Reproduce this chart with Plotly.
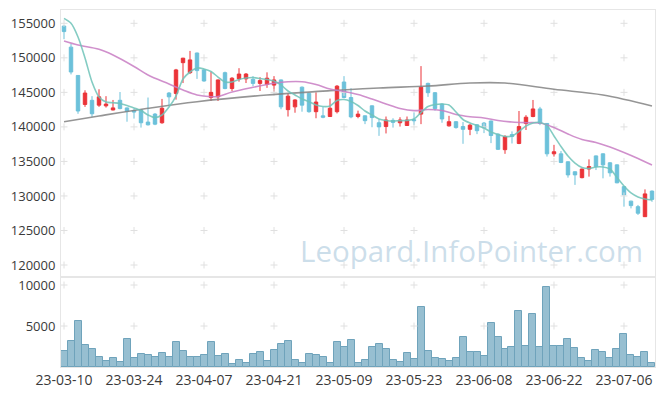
import pandas as pd
import plotly.graph_objects as go

# ---- categories: trading days (KRX) ----
holidays = ["2023-05-01", "2023-05-05", "2023-05-29", "2023-06-06"]
days = [d for d in pd.bdate_range("2023-03-10", "2023-07-12") if d.strftime("%Y-%m-%d") not in holidays]
dates = [d.strftime("%Y-%m-%d") for d in days]
tick_idx = list(range(0, 85, 10))
tick_dates = [dates[i] for i in tick_idx]
tick_labels = [days[i].strftime("%y-%m-%d") for i in tick_idx]

# ---- OHLC ----
opens = [154600, 151550, 147450, 143250, 143850, 143150, 143050, 142450, 143850, 142750,
         142350, 142450, 140700, 141850, 140600, 144900, 144850, 149300, 147850, 150700,
         148250, 144250, 144350, 147850, 145550, 146950, 146950, 146900, 146300, 146150,
         146050, 146800, 142500, 142900, 145750, 144850, 142200, 141600, 141500, 142200,
         146500, 144250, 141500, 141600, 143050, 140600, 140050, 140950, 140600, 140200,
         141050, 141850, 146300, 144950, 143300, 140150, 140750, 140050, 139650, 140300,
         140550, 140850, 138950, 136700, 138900, 137600, 140500, 141500, 142600, 140500,
         136100, 136100, 134950, 133500, 132650, 133900, 135800, 136100, 134800, 134500,
         131350, 129250, 128450, 127000, 130700]
highs = [154700, 152000, 147500, 145300, 144450, 145450, 144450, 143900, 145050, 142800,
         142650, 142500, 144250, 142000, 144050, 145050, 148400, 150000, 151000, 150750,
         148350, 148000, 146850, 148000, 147200, 148500, 147800, 147350, 147200, 147900,
         147350, 146850, 144850, 144000, 145850, 144900, 145000, 142900, 144100, 146050,
         147350, 145600, 142350, 141650, 143100, 141100, 141500, 141250, 141400, 141500,
         142100, 148800, 146400, 145050, 143400, 141600, 140850, 140700, 140450, 140400,
         140700, 140900, 139050, 138800, 139350, 142300, 141700, 143900, 142900, 140550,
         137400, 136500, 135000, 133550, 133950, 135300, 135850, 136150, 134900, 134550,
         131400, 129300, 128700, 130950, 130800]
lows = [152700, 147600, 141900, 142900, 141450, 142900, 142800, 142400, 142550, 140750,
        141200, 139900, 140200, 140250, 140450, 143150, 143950, 146350, 147650, 146950,
        146550, 143750, 143750, 145450, 145200, 146550, 146350, 145900, 145200, 145650,
        145100, 142550, 141500, 142050, 142200, 142050, 141250, 141250, 141450, 141950,
        144150, 141250, 141250, 140400, 139950, 138700, 139050, 139900, 140050, 140150,
        140250, 140400, 144350, 142350, 140600, 140050, 139750, 137550, 138800, 138950,
        139100, 137650, 136650, 136100, 137600, 137500, 139550, 141400, 140250, 135700,
        135700, 134750, 132650, 131600, 132550, 132800, 133750, 132550, 132800, 131850,
        128450, 128200, 127250, 126950, 129150]
closes = [153800, 147950, 142300, 144900, 141900, 144350, 143300, 142750, 142650, 142250,
          142150, 140600, 140300, 140400, 142700, 144350, 148250, 149950, 149700, 148150,
          146650, 145000, 146800, 145550, 147050, 147650, 147650, 146300, 146700, 147050,
          146800, 142900, 144450, 143900, 143150, 142200, 143600, 141400, 142700, 145900,
          144250, 141450, 141850, 140900, 141350, 140000, 141000, 140650, 141000, 141000,
          140900, 145750, 144950, 142650, 141150, 140750, 139900, 139650, 140250, 139450,
          139850, 138750, 136750, 138600, 138600, 140050, 141400, 142600, 140500, 136100,
          136400, 134850, 133050, 133050, 133900, 134250, 134250, 134500, 133350, 131900,
          130150, 128600, 127500, 130300, 129500]

# ---- volume ----
volumes = [1980, 3180, 5580, 2660, 2180, 1220, 780, 1100, 660, 3380,
           1100, 1580, 1500, 1220, 1700, 1220, 3020, 1980, 1220, 1220,
           1500, 3020, 1380, 1580, 380, 900, 500, 1580, 1820, 780,
           2060, 2780, 3180, 900, 500, 1580, 1460, 1220, 500, 3020,
           2420, 3260, 500, 900, 2420, 2780, 2180, 900, 660, 1700,
           980, 7380, 1980, 1100, 980, 780, 1100, 3620, 1820, 1820,
           1380, 5420, 3620, 2180, 2420, 6780, 2540, 6500, 2420, 9780,
           2540, 2540, 3380, 2300, 1100, 780, 2060, 1820, 1100, 2180,
           3980, 1460, 1220, 1820, 500]

# ---- moving averages ----
ma_short = [155720, 155000, 153020, 149980, 146500, 144330, 143600, 143500, 143390, 143100,
            142740, 142370, 141720, 141360, 141720, 142880, 144470, 146940, 147950, 148530,
            148380, 148020, 147220, 146500, 146500, 146860, 147080, 147150, 147010, 146860,
            146650, 146070, 145200, 144620, 144040, 143650, 143170, 142950, 143030, 143820,
            143970, 143680, 143100, 142300, 141720, 141140, 140930, 140850, 140900, 140930,
            141140, 142080, 142950, 143240, 143320, 143170, 142160, 141070, 140560, 140200,
            139840, 139260, 138900, 138610, 138680, 139330, 140130, 140560, 140640, 140200,
            138680, 137160, 135790, 134770, 134120, 133980, 134190, 134190, 133900, 132670,
            131440, 130430, 129850, 129560, 129410]
ma_mid_idx = [0, 2, 5, 7, 10, 12, 15, 17, 19, 21, 22, 24, 27, 30, 32, 34, 36, 38, 40, 42,
              44, 46, 48, 50, 52, 54, 56, 58, 60, 62, 64, 66, 68, 70, 72, 74, 76, 78, 80, 82, 84]
ma_mid = [152440, 151860, 151240, 150410, 148750, 147510, 146210, 145340, 144620, 144370,
          144400, 145050, 145730, 146310, 146540, 146540, 146140, 145490, 145130, 144690,
          144040, 143320, 142660, 142350, 142520, 142370, 141800, 141480, 141290, 140930,
          140710, 140610, 140560, 139910, 138970, 138180, 137740, 137090, 136290, 135420, 134480]
ma_long_idx = [0, 5, 12, 19, 29, 38, 45, 52, 58, 63, 70, 77, 84]
ma_long = [140750, 141580, 142690, 143650, 144620, 145240, 145630, 145920, 146350, 146350,
           145440, 144620, 143030]

price_ticks = [120000, 125000, 130000, 135000, 140000, 145000, 150000, 155000]
volume_ticks = [5000, 10000]

RED = "#eb3338"
BLUE = "#6cc1da"
FRAME = "#e6e6e6"
FONT = dict(family="Open Sans, DejaVu Sans, sans-serif", size=13, color="#3a3a3a")
XFONT = dict(family="Open Sans, DejaVu Sans, sans-serif", size=14, color="#3a3a3a")

fig = go.Figure()

# grid "+" marks at tick intersections
gx, gy = [], []
for d in tick_dates:
    for p in price_ticks:
        gx.append(d)
        gy.append(p)
fig.add_trace(go.Scatter(x=gx, y=gy, mode="markers", xaxis="x", yaxis="y",
                         marker=dict(symbol="cross-thin", size=5, line=dict(color="#e0e0e0", width=1)),
                         hoverinfo="skip", showlegend=False, cliponaxis=False))
vx, vy = [], []
for d in tick_dates:
    for v in volume_ticks:
        vx.append(d)
        vy.append(v)
fig.add_trace(go.Scatter(x=vx, y=vy, mode="markers", xaxis="x2", yaxis="y2",
                         marker=dict(symbol="cross-thin", size=5, line=dict(color="#e0e0e0", width=1)),
                         hoverinfo="skip", showlegend=False, cliponaxis=False))

fig.add_trace(go.Candlestick(
    x=dates, open=opens, high=highs, low=lows, close=closes,
    increasing=dict(line=dict(color=RED, width=1), fillcolor=RED),
    decreasing=dict(line=dict(color=BLUE, width=1), fillcolor=BLUE),
    whiskerwidth=0, xaxis="x", yaxis="y", showlegend=False))

fig.add_trace(go.Scatter(x=[dates[i] for i in ma_long_idx], y=ma_long, mode="lines",
                         line=dict(color="rgba(130,130,130,0.85)", width=1.6, shape="spline"),
                         xaxis="x", yaxis="y", showlegend=False))
fig.add_trace(go.Scatter(x=[dates[i] for i in ma_mid_idx], y=ma_mid, mode="lines",
                         line=dict(color="rgba(200,125,195,0.85)", width=1.6, shape="spline"),
                         xaxis="x", yaxis="y", showlegend=False))
fig.add_trace(go.Scatter(x=dates, y=ma_short, mode="lines",
                         line=dict(color="rgba(110,195,185,0.85)", width=1.6, shape="spline", smoothing=0.8),
                         xaxis="x", yaxis="y", showlegend=False))

fig.add_trace(go.Bar(x=dates, y=volumes, xaxis="x2", yaxis="y2",
                     marker=dict(color="#97bfd1", line=dict(color="#6fa3bb", width=1)),
                     showlegend=False))

split = (367 - 277) / 357
xr = [-0.43, 84.43]
common_x = dict(type="category", categoryorder="array", categoryarray=dates, range=xr,
                showgrid=False, zeroline=False, showline=True, linecolor=FRAME, mirror=True,
                ticks="", tickfont=XFONT, automargin=False)
common_y = dict(showgrid=False, zeroline=False, showline=True, linecolor=FRAME, mirror=True,
                ticks="", tickfont=FONT, ticklabelstandoff=2, automargin=False,
                tickformat="d")
fig.update_layout(
    width=665, height=396,
    margin=dict(l=61, r=10, t=10, b=29, autoexpand=False),
    paper_bgcolor="white", plot_bgcolor="white",
    bargap=0, showlegend=False,
    font=FONT,
    xaxis=dict(common_x, anchor="y", domain=[0, 1], showticklabels=False, rangeslider=dict(visible=False)),
    xaxis2=dict(common_x, anchor="y2", domain=[0, 1], matches="x",
                tickvals=tick_dates, ticktext=tick_labels),
    yaxis=dict(common_y, domain=[split, 1], range=[118264, 156926], tickvals=price_ticks),
    yaxis2=dict(common_y, domain=[0, split], range=[0, 10980], tickvals=volume_ticks),
    annotations=[dict(text="Leopard.InfoPointer.com", xref="paper", yref="paper",
                      x=(645 - 61) / 594, y=(367 - 250) / 357, xanchor="right", yanchor="middle",
                      showarrow=False,
                      font=dict(family="Open Sans, sans-serif", size=29.5, color="rgba(170,200,220,0.6)"))],
)

fig.write_html("out.html", config={"displayModeBar": False},
               post_script="document.body.style.margin='0';")
